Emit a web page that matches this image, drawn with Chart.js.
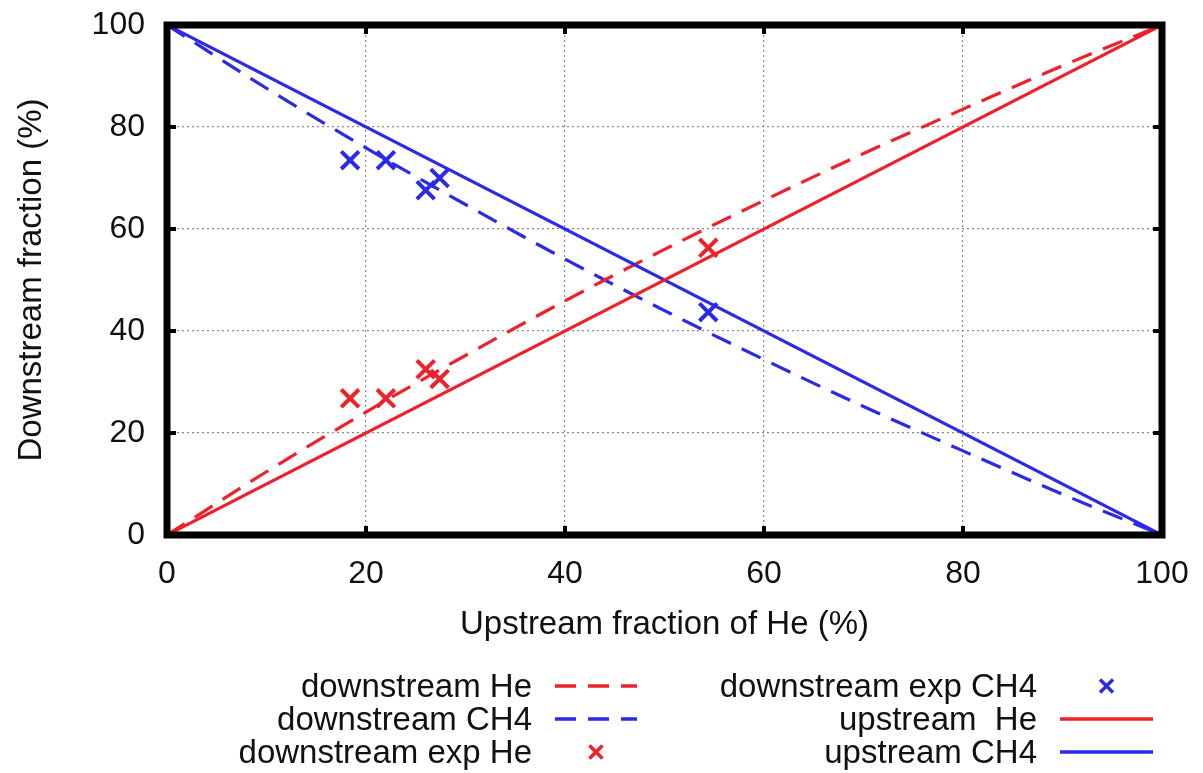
<!DOCTYPE html>
<html><head><meta charset="utf-8">
<script src="https://cdn.jsdelivr.net/npm/chart.js@4.4.0/dist/chart.umd.min.js"></script>
<style>html,body{margin:0;padding:0;background:#fff;}#wrap{width:1203px;height:773px;position:relative;}</style>
</head><body>
<div id="wrap"><canvas id="c" width="1203" height="773"></canvas></div>
<script>
// ---- data ----
const modelX = [0, 10, 20, 30, 40, 50, 60, 70, 80, 90, 100];
const downstreamHe  = [0, 12.4, 24.1, 35.2, 45.9, 56.0, 65.6, 74.8, 83.5, 92.0, 100];
const downstreamCH4 = [100, 87.6, 75.9, 64.8, 54.1, 44.0, 34.4, 25.2, 16.5, 8.0, 0];
const upstreamX = [0, 100];
const upstreamHe = [0, 100];
const upstreamCH4 = [100, 0];
const expX = [18.4, 22.0, 26.0, 27.4, 54.4];
const expHe = [26.8, 26.8, 32.5, 30.6, 56.3];
const expCH4 = [73.5, 73.5, 67.6, 70.0, 43.7];
const tickValues = [0, 20, 40, 60, 80, 100];

const RED = '#f0202a';
const BLUE = '#2a2ae8';
const FONT = "'Liberation Sans', Arial, Helvetica, sans-serif";

const pts = (xs, ys) => xs.map((x, i) => ({x: x, y: ys[i]}));

const legendItems = [
  {col: 0, row: 0, text: 'downstream He', color: RED, kind: 'dash'},
  {col: 0, row: 1, text: 'downstream CH4', color: BLUE, kind: 'dash'},
  {col: 0, row: 2, text: 'downstream exp He', color: RED, kind: 'cross'},
  {col: 1, row: 0, text: 'downstream exp CH4', color: BLUE, kind: 'cross'},
  {col: 1, row: 1, text: 'upstream  He', color: RED, kind: 'line'},
  {col: 1, row: 2, text: 'upstream CH4', color: BLUE, kind: 'line'}
];

const framePlugin = {
  id: 'frame',
  afterDatasetsDraw(chart) {
    const {ctx, chartArea: a, scales} = chart;
    ctx.save();
    ctx.strokeStyle = '#000';
    ctx.fillStyle = '#000';
    tickValues.forEach(v => {
      const px = scales.x.getPixelForValue(v);
      const py = scales.y.getPixelForValue(v);
      ctx.fillRect(px - 2, a.bottom - 9, 4, 9);
      ctx.fillRect(px - 2, a.top, 4, 9);
      ctx.fillRect(a.left, py - 2, 9, 4);
      ctx.fillRect(a.right - 9, py - 2, 9, 4);
    });
    ctx.lineWidth = 7;
    ctx.strokeRect(a.left, a.top, a.right - a.left, a.bottom - a.top);
    ctx.restore();
  }
};

const legendPlugin = {
  id: 'customLegend',
  afterDraw(chart) {
    const {ctx} = chart;
    const rowY = [686, 719, 752];
    const cols = [
      {textRight: 532, s0: 555, s1: 637},
      {textRight: 1037, s0: 1060, s1: 1153}
    ];
    ctx.save();
    ctx.font = '33px ' + FONT;
    ctx.textAlign = 'right';
    ctx.textBaseline = 'middle';
    legendItems.forEach(it => {
      const c = cols[it.col];
      const y = rowY[it.row];
      ctx.fillStyle = '#111';
      ctx.fillText(it.text, c.textRight, y + 2);
      ctx.strokeStyle = it.color;
      ctx.lineWidth = 3.5;
      if (it.kind === 'cross') {
        const cx = (c.s0 + c.s1) / 2, r = 6.5;
        ctx.beginPath();
        ctx.moveTo(cx - r, y - r); ctx.lineTo(cx + r, y + r);
        ctx.moveTo(cx + r, y - r); ctx.lineTo(cx - r, y + r);
        ctx.stroke();
      } else {
        ctx.setLineDash(it.kind === 'dash' ? [21, 12] : []);
        ctx.beginPath();
        ctx.moveTo(c.s0, y); ctx.lineTo(c.s1, y);
        ctx.stroke();
        ctx.setLineDash([]);
      }
    });
    ctx.restore();
  }
};

const lineDs = (label, data, color, dash) => ({
  label: label, data: data, showLine: true, borderColor: color, backgroundColor: color,
  borderWidth: 3.2, borderDash: dash, pointRadius: 0, fill: false, tension: 0.3,
  cubicInterpolationMode: 'monotone'
});
const crossDs = (label, data, color) => ({
  label: label, data: data, showLine: false, pointStyle: 'crossRot', pointRadius: 12.5,
  borderColor: color, backgroundColor: color, pointBorderWidth: 4
});

new Chart(document.getElementById('c').getContext('2d'), {
  type: 'scatter',
  data: {
    datasets: [
      lineDs('upstream  He', pts(upstreamX, upstreamHe), RED, []),
      lineDs('upstream CH4', pts(upstreamX, upstreamCH4), BLUE, []),
      lineDs('downstream He', pts(modelX, downstreamHe), RED, [21, 12]),
      lineDs('downstream CH4', pts(modelX, downstreamCH4), BLUE, [21, 12]),
      crossDs('downstream exp He', pts(expX, expHe), RED),
      crossDs('downstream exp CH4', pts(expX, expCH4), BLUE)
    ]
  },
  options: {
    responsive: false,
    animation: false,
    layout: {padding: {left: 0, top: 25, right: 41, bottom: 128}},
    plugins: {legend: {display: false}, tooltip: {enabled: false}},
    scales: {
      x: {
        type: 'linear', min: 0, max: 100,
        afterBuildTicks(s) { s.ticks = tickValues.map(v => ({value: v})); },
        afterFit(s) { s.height = 110; s.paddingLeft = 0; s.paddingRight = 0; },
        ticks: {color: '#111', padding: 20, font: {family: FONT, size: 32}},
        grid: {color: '#8a8a8a', lineWidth: 1.2, drawTicks: false, tickLength: 0},
        border: {display: false, dash: [2, 3]},
        title: {display: true, text: 'Upstream fraction of He (%)', color: '#111',
                font: {family: FONT, size: 33}, padding: {top: 0, bottom: 0}}
      },
      y: {
        type: 'linear', min: 0, max: 100,
        afterBuildTicks(s) { s.ticks = tickValues.map(v => ({value: v})); },
        afterFit(s) { s.width = 167; s.paddingTop = 0; s.paddingBottom = 0; },
        ticks: {color: '#111', padding: 22, font: {family: FONT, size: 32}},
        grid: {color: '#8a8a8a', lineWidth: 1.2, drawTicks: false, tickLength: 0},
        border: {display: false, dash: [2, 3]},
        title: {display: true, text: 'Downstream fraction (%)', color: '#111',
                font: {family: FONT, size: 33}, padding: {top: 12, bottom: 0}}
      }
    }
  },
  plugins: [framePlugin, legendPlugin]
});
</script>
</body></html>
